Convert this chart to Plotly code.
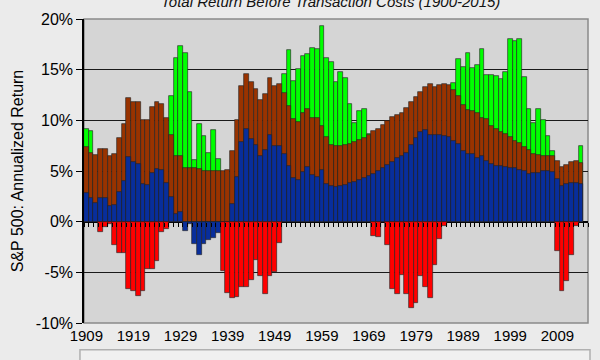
import plotly.graph_objects as go

years = list(range(1909, 2015))

green = [9.1, 8.9] + [None]*16 + [12.4, 16.2, 17.3, 16.6, 12.8, 6.1, 9.6, 8.5, 6.8, 9.0, 6.2] + [None]*13 + \
    [14.6, 16.9, 13.9, 15.1, 16.3, 16.5, 17.1, 17.0, 19.3, 16.2, 15.8, 13.8, 14.8, 14.2, 11.6, 9.7, 10.9, 11.1, 8.7] + \
    [None]*17 + [13.7, 16.1, 15.3, 16.6, 15.2, 15.5, 17.0, 14.5, 14.5, 14.4, 14.1, 14.8, 18.0, 17.8, 18.0, 14.3,
                 11.1, 9.7, 11.1, 10.0, 8.5, 7.0] + [None]*5 + [7.5]

brown = [7.4, 6.8, 6.6, 7.2, 7.2, 6.5, 6.7, 8.3, 9.6, 12.2, 11.8, 11.8, 10.0, 10.0, 11.3, 11.8, 11.6, 10.2,
         8.6, 6.5, 6.5, 5.3, 5.3, 5.3, 5.2, 5.0, 5.0, 5.0, 5.0, 5.0, 5.1,
         7.0, 10.0, 13.4, 14.6, 13.8, 13.1, 12.0, 12.6, 14.2, 13.4, 13.6, 12.7, 11.4, 10.1, 9.8, 10.7, 11.1, 10.2,
         10.2, 9.4, 8.4, 7.6,
         7.5, 7.5, 7.6, 7.7, 7.9, 8.1, 8.3, 8.6, 8.9, 9.1, 9.5, 9.9, 10.3, 10.5, 10.7, 11.2, 11.8, 12.3, 12.8,
         13.3, 13.6, 13.3, 13.5, 13.6, 13.5, 13.0, 12.4,
         11.5, 11.05, 10.9, 10.7, 10.2, 10.1, 9.4, 9.1, 8.85, 8.65, 8.4, 8.0, 7.8, 7.4, 7.1, 6.7, 6.6, 6.5, 6.5,
         6.45, 5.95, 5.4, 5.6, 5.9, 5.95, 5.8]

blue = [2.8, 2.3, 1.8, 2.3, 2.3, 1.5, 1.6, 2.9, 4.0, 6.4, 5.9, 5.7, 3.7, 3.6, 4.8, 5.2, 5.1, 3.8,
        2.4, 0.8, 0.95, -0.9, -0.2, -2.2, -3.3, -2.2, -1.8, -1.6, -1.1, 0.0, 0.0,
        1.7, 4.4, 7.9, 9.1, 8.2, 7.6, 6.5, 7.1, 8.6, 7.5, 7.5, 6.7, 5.5, 4.3, 4.1, 4.9, 5.4, 4.6, 4.4, 5.1, 3.7, 3.5,
        3.4, 3.5, 3.6, 3.8, 3.9, 4.1, 4.3, 4.5, 4.7, 5.0, 5.3, 5.6, 5.9, 6.3, 6.5, 6.8, 7.6, 8.3, 8.8, 9.0,
        8.6, 8.6, 8.6, 8.5, 8.4, 8.0, 7.7,
        7.0, 6.7, 6.7, 6.3, 6.5, 5.95, 5.7, 5.5, 5.5, 5.4, 5.3, 5.3, 5.1, 5.0, 4.7, 4.8, 4.8, 5.0, 5.0, 4.9,
        4.2, 3.5, 3.7, 3.8, 3.8, 3.7]

red = [None]*3 + [-1.0, -0.5, -0.2, -2.3, -3.1, -3.1, -6.6, -6.8, -7.3, -6.8, -4.7, -4.7, -3.9, -1.0, -0.7] + \
    [None]*11 + [-4.9, -7.0, -7.5, -7.4, -6.4, -6.4, -5.8, -3.8, -5.4, -7.1, -5.4, -5.0, -2.1] + [None]*19 + \
    [-1.4, -1.5, None, -2.3, -6.6, -7.1, -5.3, -7.1, -8.5, -8.0, -5.4, -6.4, -7.5, -4.3, -1.7, -0.4] + \
    [None]*23 + [-2.9, -6.8, -5.9, -3.3, -0.4, None]

y_ticks = [-10, -5, 0, 5, 10, 15, 20]
y_ticktext = [f"{v}%" for v in y_ticks]
x_ticks = list(range(1909, 2010, 10))

FONT = "Arial, Liberation Sans, sans-serif"

fig = go.Figure()
for vals, col in [(green, "#00FF00"), (brown, "#993300"), (blue, "#082E9C"), (red, "#FF0000")]:
    fig.add_bar(x=years, y=vals, marker_color=col, width=1.0,
                marker_line_color="rgba(35,35,35,0.9)", marker_line_width=0.7,
                showlegend=False, hoverinfo="skip")

# helper trace for zero-line tick axis
fig.add_scatter(x=[1909], y=[0], xaxis="x2", mode="markers", marker_opacity=0,
                showlegend=False, hoverinfo="skip")

fig.update_layout(
    width=600, height=360,
    margin=dict(l=84, r=12, t=19, b=37, autoexpand=False),
    paper_bgcolor="#EBEBEB", plot_bgcolor="#D5D5D5",
    barmode="overlay", bargap=0,
    font=dict(family=FONT, color="#000"),
    xaxis=dict(range=[1908.5, 2015.5], tickvals=x_ticks, showgrid=False, zeroline=False,
               showline=False, ticks="", tickfont=dict(size=15), ticklabelstandoff=2,
               automargin=False),
    xaxis2=dict(range=[1908.5, 2015.5], overlaying="x", anchor="free", position=1/3,
                tickvals=[y + 0.5 for y in range(1908, 2016)], ticks="outside", ticklen=4,
                tickcolor="#000", tickwidth=1, showticklabels=False, showgrid=False,
                zeroline=False, showline=False, automargin=False),
    yaxis=dict(range=[-10, 20], tickvals=y_ticks, ticktext=y_ticktext, showgrid=True,
               gridcolor="#1a1a1a", gridwidth=1, zeroline=True, zerolinecolor="#000",
               zerolinewidth=1.5, showline=True, linecolor="#000", linewidth=1.5,
               ticks="outside", ticklen=6, tickcolor="#000", tickfont=dict(size=16),
               automargin=False,
               title=dict(text="S&P 500: Annualized Return", font=dict(size=16), standoff=8)),
    shapes=[
        dict(type="rect", xref="paper", yref="paper", x0=0, x1=1, y0=0, y1=1,
             line=dict(color="#8A8A8A", width=1.5), layer="below", fillcolor="rgba(0,0,0,0)"),
        dict(type="rect", xref="paper", yref="paper", x0=-0.008, x1=1.004, y0=-0.3, y1=-0.088,
             line=dict(color="#B0B0B0", width=1.5), fillcolor="#F0F0F0"),
    ],
    annotations=[
        dict(text="<i>Total Return Before Transaction Costs (1900-2015)</i>", xref="paper", yref="paper",
             x=0.49, y=1.058, xanchor="center", yanchor="middle", showarrow=False,
             font=dict(size=15, color="#111")),
    ],
)

fig.write_html("out.html", config={"displayModeBar": False},
               post_script="document.body.style.margin='0';document.body.style.background='#EBEBEB';")
